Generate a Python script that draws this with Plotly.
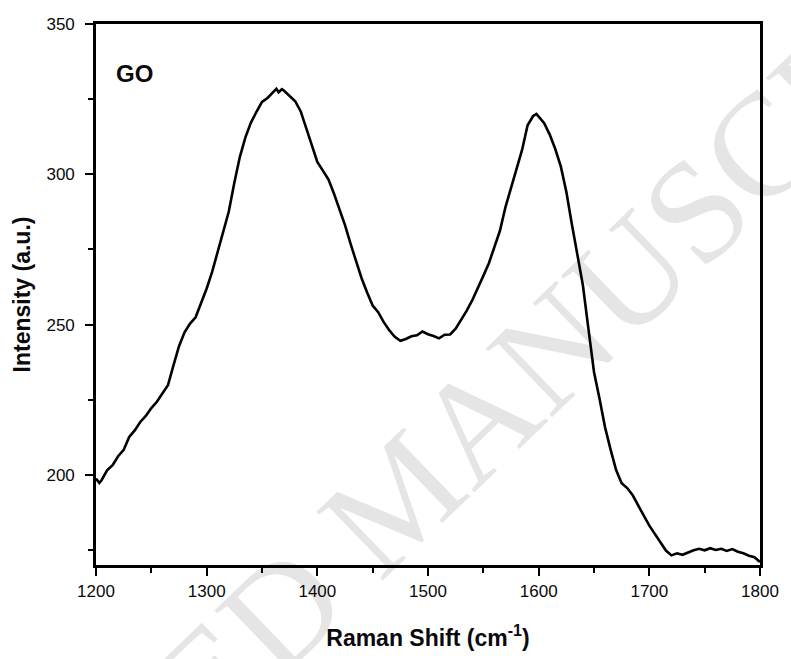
import plotly.graph_objects as go

# Raman shift (cm^-1) and intensity (a.u.)
raman_shift = [1200, 1203, 1205, 1210, 1215, 1220, 1225, 1230, 1235, 1240, 1245, 1250,
               1255, 1260, 1265, 1270, 1275, 1280, 1285, 1290, 1295, 1300, 1305, 1310,
               1315, 1320, 1325, 1330, 1335, 1340, 1345, 1350, 1355, 1360, 1363, 1365,
               1368, 1370, 1375, 1380, 1385, 1390, 1395, 1400, 1405, 1410, 1415, 1420,
               1425, 1430, 1435, 1440, 1445, 1450, 1455, 1460, 1465, 1470, 1475, 1480,
               1485, 1490, 1495, 1500, 1505, 1510, 1515, 1520, 1525, 1530, 1535, 1540,
               1545, 1550, 1555, 1560, 1565, 1570, 1575, 1580, 1585, 1590, 1595, 1598,
               1600, 1605, 1610, 1615, 1620, 1625, 1630, 1635, 1640, 1645, 1650, 1655,
               1660, 1665, 1670, 1675, 1680, 1685, 1690, 1695, 1700, 1705, 1710, 1715,
               1720, 1725, 1730, 1735, 1740, 1745, 1750, 1755, 1760, 1765, 1770, 1775,
               1780, 1785, 1790, 1795, 1800]
intensity = [198.8, 197.3, 198.2, 201.5, 203.2, 206.2, 208.3, 212.6, 214.8, 217.6, 219.6, 222.2,
             224.3, 227.0, 229.8, 236.4, 242.8, 247.4, 250.3, 252.4, 257.2, 262.0, 267.6, 274.3,
             281.2, 287.6, 297.2, 305.8, 312.3, 317.2, 320.8, 324.1, 325.4, 327.2, 328.4, 327.3,
             328.3, 327.8, 326.1, 324.3, 320.9, 315.4, 310.2, 304.1, 301.2, 298.3, 293.6, 288.4,
             283.1, 276.9, 271.2, 265.4, 260.7, 256.3, 254.1, 250.8, 248.1, 245.9, 244.6, 245.2,
             246.1, 246.4, 247.7, 246.8, 246.2, 245.4, 246.6, 246.7, 248.6, 251.4, 254.6, 258.1,
             262.0, 266.2, 270.4, 275.6, 281.2, 289.1, 295.4, 301.2, 308.1, 316.3, 319.4, 320.1,
             319.3, 317.0, 313.2, 308.4, 302.6, 294.2, 283.4, 273.1, 263.0, 248.5, 234.2, 225.3,
             215.8, 208.4, 201.6, 197.2, 195.6, 193.2, 189.6, 186.4, 183.1, 180.2, 177.6, 174.8,
             173.2, 173.9, 173.4, 174.2, 174.9, 175.4, 174.9, 175.6, 175.0, 175.4, 174.7, 175.3,
             174.4, 173.9, 173.1, 172.6, 171.0]

x_ticks = [1200, 1300, 1400, 1500, 1600, 1700, 1800]
y_ticks = [200, 250, 300, 350]

fig = go.Figure()
fig.add_trace(go.Scatter(x=raman_shift, y=intensity, mode="lines",
                         line=dict(color="black", width=2.6), showlegend=False))

axis_common = dict(
    showline=True, linecolor="black", linewidth=2.6, mirror=True,
    ticks="outside", tickcolor="black", tickwidth=2, ticklen=8,
    showgrid=False, zeroline=False,
    tickfont=dict(family="Arial, Liberation Sans", size=17, color="#0a0a0a"),
    minor=dict(ticks="outside", ticklen=5, tickwidth=2, tickcolor="black", showgrid=False),
)

fig.update_xaxes(range=[1200, 1800], tickvals=x_ticks, minor_dtick=50, minor_tick0=1200,
                 ticklabelstandoff=1,
                 title=dict(text="Raman Shift (cm<sup>-1</sup>)", standoff=30,
                            font=dict(family="Arial, Liberation Sans", size=23, color="#0a0a0a",
                                      weight="bold")),
                 **axis_common)
fig.update_yaxes(range=[170, 350], tickvals=y_ticks, minor_dtick=50, minor_tick0=175,
                 ticklabelstandoff=7,
                 title=dict(text="Intensity (a.u.)", standoff=10,
                            font=dict(family="Arial, Liberation Sans", size=23, color="#0a0a0a",
                                      weight="bold")),
                 **axis_common)

fig.add_annotation(text="<b>GO</b>", xref="paper", yref="paper", x=0.027, y=0.909,
                   xanchor="left", yanchor="middle", showarrow=False,
                   font=dict(family="Arial, Liberation Sans", size=24, color="#0a0a0a"))

# faint diagonal watermark
fig.add_annotation(text="ACCEPTED MANUSCRIPT", xref="paper", yref="paper",
                   x=(402 - 96) / 668, y=(567 - 498) / 543, xanchor="center", yanchor="middle",
                   textangle=-44, showarrow=False,
                   font=dict(family="Liberation Serif, Times New Roman", size=146,
                             color="rgba(0,0,0,0.1)"))

fig.update_layout(width=791, height=659, margin=dict(l=96, r=27, t=24, b=92),
                  plot_bgcolor="white", paper_bgcolor="white")

fig.write_html("out.html")
